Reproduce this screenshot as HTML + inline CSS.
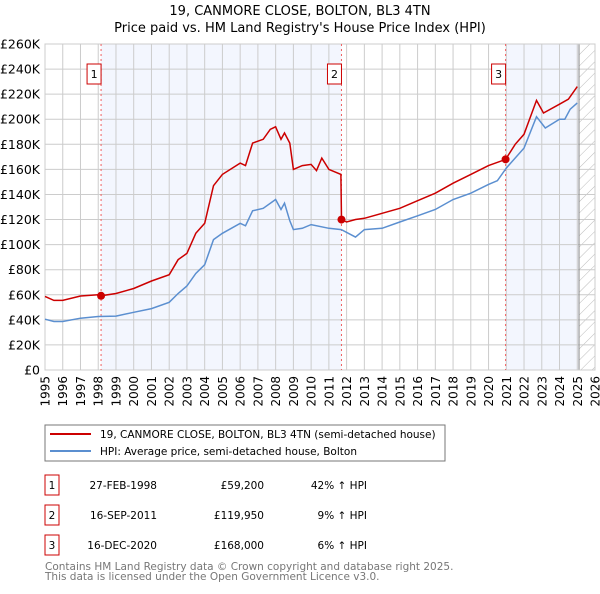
<!DOCTYPE html>
<html><head><meta charset="utf-8"><style>
body{margin:0;background:#fff;font-family:"DejaVu Sans","Liberation Sans",sans-serif;}
svg text{font-family:"DejaVu Sans","Liberation Sans",sans-serif;}
</style></head><body>
<svg id="c" width="600" height="590" viewBox="0 0 600 590" xmlns="http://www.w3.org/2000/svg">
<defs><pattern id="hatch" width="8" height="8" patternUnits="userSpaceOnUse" patternTransform="rotate(45)"><line x1="0" y1="0" x2="0" y2="8" stroke="#bbb" stroke-width="1"/></pattern></defs>
<text x="300" y="15" text-anchor="middle" font-size="13">19, CANMORE CLOSE, BOLTON, BL3 4TN</text>
<text x="300" y="32" text-anchor="middle" font-size="13">Price paid vs. HM Land Registry's House Price Index (HPI)</text>
<g id="plot"></g>
<rect x="45" y="425" width="400" height="36" fill="none" stroke="#777"/>
<line x1="50" y1="434" x2="91" y2="434" stroke="#cc0000" stroke-width="2"/>
<text x="100" y="438" font-size="10.5">19, CANMORE CLOSE, BOLTON, BL3 4TN (semi-detached house)</text>
<line x1="50" y1="451" x2="91" y2="451" stroke="#5b8fd0" stroke-width="2"/>
<text x="100" y="455" font-size="10.5">HPI: Average price, semi-detached house, Bolton</text>
<g font-size="10.5">
<rect x="45" y="475" width="14" height="20" fill="none" stroke="#cc0000"/><text x="52" y="489" text-anchor="middle">1</text>
<text x="157" y="489" text-anchor="end">27-FEB-1998</text><text x="264" y="489" text-anchor="end">£59,200</text><text x="367" y="489" text-anchor="end">42% ↑ HPI</text>
<rect x="45" y="505" width="14" height="20" fill="none" stroke="#cc0000"/><text x="52" y="519" text-anchor="middle">2</text>
<text x="157" y="519" text-anchor="end">16-SEP-2011</text><text x="264" y="519" text-anchor="end">£119,950</text><text x="367" y="519" text-anchor="end">9% ↑ HPI</text>
<rect x="45" y="535" width="14" height="20" fill="none" stroke="#cc0000"/><text x="52" y="549" text-anchor="middle">3</text>
<text x="157" y="549" text-anchor="end">16-DEC-2020</text><text x="264" y="549" text-anchor="end">£168,000</text><text x="367" y="549" text-anchor="end">6% ↑ HPI</text>
</g>
<text x="45" y="570" font-size="10.5" fill="#777">Contains HM Land Registry data © Crown copyright and database right 2025.</text>
<text x="45" y="580" font-size="10.5" fill="#777">This data is licensed under the Open Government Licence v3.0.</text>
</svg>
<script>
const hpiYears=[1995,1995.5,1996,1997,1998,1999,2000,2001,2002,2002.5,2003,2003.5,2004,2004.5,2005,2006,2006.3,2006.7,2007.3,2008,2008.3,2008.5,2008.8,2009,2009.5,2010,2011,2011.7,2012.5,2013,2014,2015,2016,2017,2018,2019,2020,2020.5,2021,2022,2022.7,2023.2,2024,2024.3,2024.6,2025];
const hpiValues=[40.5,38.7,38.7,41.3,42.7,43,46,49,54,61,67,77,84,104,109,117,115,127,129,136,128,133,119,112,113,116,113,112,106,112,113,118,123,128,136,141,148,151,161,177,202,193,200,200,208,213];
const priceYears=[1995,1995.5,1996,1997,1998,1998.15,1999,2000,2001,2002,2002.5,2003,2003.5,2004,2004.5,2005,2006,2006.3,2006.7,2007.3,2007.7,2008,2008.3,2008.5,2008.8,2009,2009.5,2010,2010.3,2010.6,2011,2011.68,2011.71,2012,2012.5,2013,2014,2015,2016,2017,2018,2019,2020,2020.96,2021.5,2022,2022.7,2023.1,2024,2024.5,2025];
const priceValues=[58.7,55.5,55.5,59,60,59.2,61,65,71,76,88,93,109,117,147,156,165,163,181,184,192,194,184,189,181,160,163,164,159,169,160,156,120,118,120,121,125,129,135,141,149,156,163,168,180,188,215,205,212,216,226];
const saleYears=[1998.16,2011.71,2020.96];
const saleValues=[59.2,119.95,168];
const saleLabels=['1','2','3'];
const yTicks=[0,20,40,60,80,100,120,140,160,180,200,220,240,260];
const xTicks=[1995,1996,1997,1998,1999,2000,2001,2002,2003,2004,2005,2006,2007,2008,2009,2010,2011,2012,2013,2014,2015,2016,2017,2018,2019,2020,2021,2022,2023,2024,2025,2026];
const L=45,R=595,T=44,B=370;
const X=y=>L+(y-1995)/(2026-1995)*(R-L);
const Y=v=>B-v/260*(B-T);
const NS='http://www.w3.org/2000/svg';
const g=document.getElementById('plot');
function mk(t,a){const e=document.createElementNS(NS,t);for(const k in a)e.setAttribute(k,a[k]);g.appendChild(e);return e;}
let e;
e=mk('rect',{x:X(saleYears[0]),y:T,width:X(saleYears[1])-X(saleYears[0]),height:B-T,fill:'#f3f6fe'});


e=mk('rect',{x:X(saleYears[2]),y:T,width:X(2025.1)-X(saleYears[2]),height:B-T,fill:'#f3f6fe'});


e=mk('rect',{x:X(2025.1),y:T,width:R-X(2025.1),height:B-T,fill:'url(#hatch)'});


yTicks.forEach(v=>{
 e=mk('line',{x1:L,x2:R,y1:Y(v),y2:Y(v),stroke:'#ccc'});
 
 
 e=mk('text',{x:40,y:Y(v)+4.5,'text-anchor':'end','font-size':'12.5'});e.textContent=v==0?'£0':'£'+v+'K';
 
 
});
xTicks.forEach(y=>{
 e=mk('line',{x1:X(y),x2:X(y),y1:T,y2:B,stroke:'#ccc'});
 
 
 const tx=X(y)+4.5;
 e=mk('text',{x:tx,y:376,'text-anchor':'end','font-size':'12',transform:'rotate(-90 '+tx+' 376)'});e.textContent=y;
 
 
});
e=mk('line',{x1:X(2025.1),x2:X(2025.1),y1:T,y2:B,stroke:'#888'});


e=mk('rect',{x:L,y:T,width:R-L,height:B-T,fill:'none',stroke:'#ccc'});


saleYears.forEach((s,i)=>{
 e=mk('line',{x1:X(s),x2:X(s),y1:T,y2:B,stroke:'#f06060','stroke-dasharray':'2,3'});
 
 
});
e=mk('path',{d:hpiYears.map((y,i)=>(i?'L':'M')+X(y).toFixed(1)+','+Y(hpiValues[i]).toFixed(1)).join(''),fill:'none',stroke:'#5b8fd0','stroke-width':1.5});


e=mk('path',{d:priceYears.map((y,i)=>(i?'L':'M')+X(y).toFixed(1)+','+Y(priceValues[i]).toFixed(1)).join(''),fill:'none',stroke:'#cc0000','stroke-width':1.5});


saleYears.forEach((s,i)=>{
 e=mk('circle',{cx:X(s),cy:Y(saleValues[i]),r:4,fill:'#cc0000'});
 
 
 e=mk('rect',{x:X(s)-14,y:64,width:14,height:20,fill:'#fff',stroke:'#cc0000'});
 
 
 e=mk('text',{x:X(s)-7,y:78,'text-anchor':'middle','font-size':'11'});e.textContent=saleLabels[i];
 
 
});
</script>
</body></html>
